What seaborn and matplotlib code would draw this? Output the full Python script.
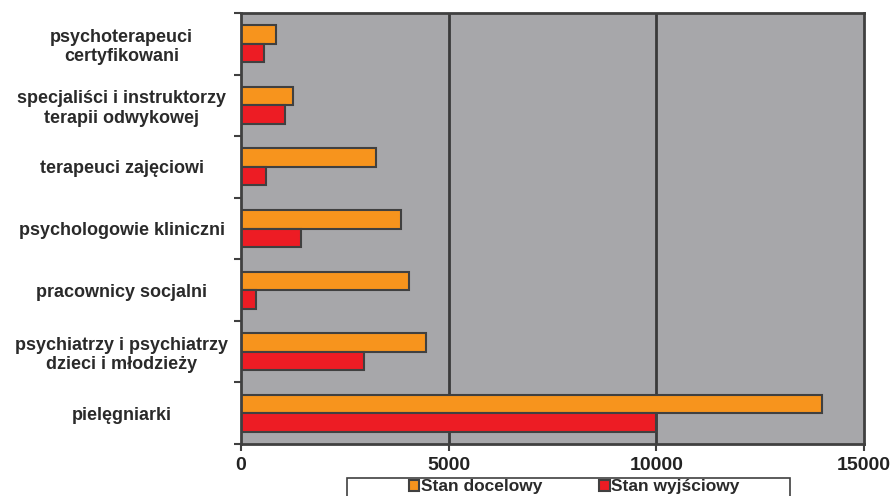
import matplotlib
matplotlib.use("Agg")
import matplotlib.pyplot as plt
import seaborn as sns
import pandas as pd
import numpy as np
from matplotlib.ticker import FixedLocator, NullFormatter
from matplotlib.patches import Rectangle

categories = [
    "psychoterapeuci\ncertyfikowani",
    "specjaliści i instruktorzy\nterapii odwykowej",
    "terapeuci zajęciowi",
    "psychologowie kliniczni",
    "pracownicy socjalni",
    "psychiatrzy i psychiatrzy\ndzieci i młodzieży",
    "pielęgniarki",
]
series_names = ["Stan docelowy", "Stan wyjściowy"]
docelowy = [850, 1250, 3250, 3850, 4050, 4450, 14000]
wyjsciowy = [550, 1050, 600, 1450, 350, 2950, 10000]
x_ticks = [0, 5000, 10000, 15000]

df = pd.DataFrame({
    "kategoria": categories * 2,
    "seria": [series_names[0]] * len(categories) + [series_names[1]] * len(categories),
    "wartosc": docelowy + wyjsciowy,
})

sns.set_style("white")
plt.rcParams["font.family"] = ["Liberation Sans", "DejaVu Sans"]

W, H = 895, 496
fig = plt.figure(figsize=(W / 100, H / 100), dpi=100)
ax = fig.add_axes([241 / W, 1 - 444 / H, (864 - 241) / W, (444 - 13) / H])
ax.set_facecolor("#a7a7aa")

sns.barplot(
    data=df, y="kategoria", x="wartosc", hue="seria", order=categories,
    hue_order=series_names, palette=["#f7941d", "#ed1c24"], orient="h",
    width=0.6, edgecolor="#404040", linewidth=1.5, ax=ax, saturation=1,
    legend=True,
)

ax.set_xlim(0, 15000)
ax.set_ylim(len(categories) - 0.5, -0.5)
ax.set_xticks(x_ticks)
ax.set_xticklabels([str(t) for t in x_ticks], fontsize=14, color="#222222", fontweight="bold")
for t in x_ticks[1:-1]:
    ax.axvline(t, color="#3a3a3a", linewidth=2, zorder=0.5)

ax.set_yticks(range(len(categories)))
ax.set_yticklabels(categories, fontsize=13, color="#2a2a2a", ha="center",
                   linespacing=1.2, fontweight="bold")
ax.tick_params(axis="y", which="major", length=0, pad=86)
ax.yaxis.set_minor_locator(FixedLocator(np.arange(-0.5, len(categories) + 0.5, 1)))
ax.yaxis.set_minor_formatter(NullFormatter())
ax.tick_params(axis="y", which="minor", length=5, width=1.5, color="#404040", left=True)
ax.tick_params(axis="x", which="major", length=5, width=1.5, color="#404040", bottom=True, pad=4)

ax.set_xlabel("")
ax.set_ylabel("")
for s in ax.spines.values():
    s.set_color("#404040")
    s.set_linewidth(2)

leg = ax.legend(
    loc="upper center", bbox_to_anchor=(0.535, -0.076), ncol=2, frameon=False,
    prop={"size": 12.5, "weight": "bold"}, handlelength=0.6, handleheight=0.6,
    handletextpad=0.08, columnspacing=3.3, borderpad=0.15, borderaxespad=0,
)
for t in leg.get_texts():
    t.set_color("#2a2a2a")
for h in leg.legend_handles:
    h.set_edgecolor("#404040")

# legend box, partly cut by the bottom edge as in the reference
fig.patches.append(Rectangle((347 / W, -0.02), (790 - 347) / W, (H - 478) / H + 0.02,
                             transform=fig.transFigure, facecolor="white",
                             edgecolor="#404040", linewidth=1.2, zorder=-1))

fig.savefig("out.png", dpi=100)
